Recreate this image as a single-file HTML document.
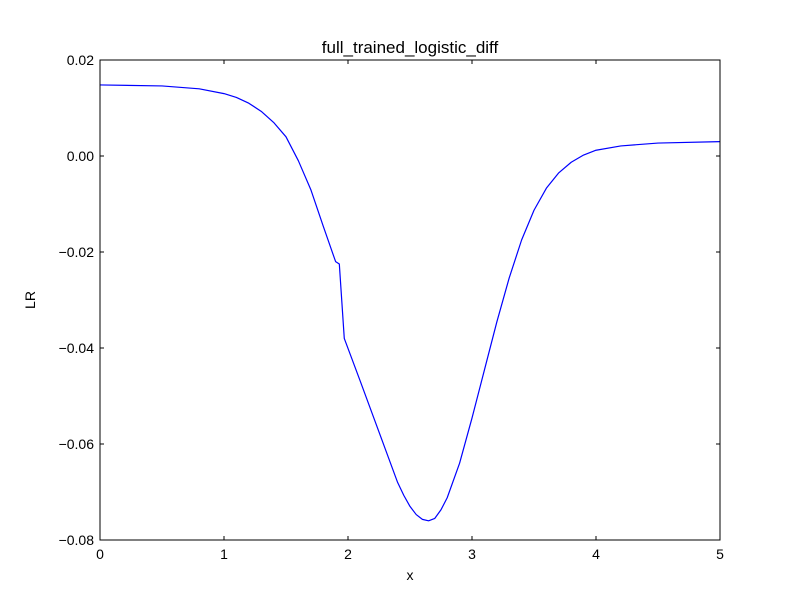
<!DOCTYPE html>
<html><head><meta charset="utf-8"><style>
body{margin:0;background:#fff;}
text{font-family:"Liberation Sans","DejaVu Sans",sans-serif;}
</style></head><body>
<svg id="chart" width="800" height="600" xmlns="http://www.w3.org/2000/svg">
<rect width="800" height="600" fill="#fff"/>
<g id="g"></g>
</svg>
<script>
const xs=[0,0.5,0.8,1,1.1,1.2,1.3,1.4,1.5,1.6,1.7,1.8,1.9,1.93,1.97,2.1,2.2,2.3,2.4,2.45,2.5,2.55,2.6,2.65,2.7,2.75,2.8,2.9,3.0,3.1,3.2,3.3,3.4,3.5,3.6,3.7,3.8,3.9,4.0,4.2,4.5,5];
const ys=[0.0148,0.0146,0.014,0.013,0.0122,0.011,0.0093,0.007,0.004,-0.001,-0.007,-0.0146,-0.022,-0.0225,-0.038,-0.047,-0.054,-0.061,-0.068,-0.0707,-0.073,-0.0747,-0.0757,-0.076,-0.0755,-0.0737,-0.0712,-0.064,-0.0546,-0.0446,-0.0346,-0.0254,-0.0175,-0.0113,-0.0067,-0.0035,-0.0013,0.0002,0.0012,0.0021,0.0027,0.003];
const xTicks=[0,1,2,3,4,5];
const xTickLabels=["0","1","2","3","4","5"];
const yTicks=[-0.08,-0.06,-0.04,-0.02,0.00,0.02];
const yTickLabels=["\u22120.08","\u22120.06","\u22120.04","\u22120.02","0.00","0.02"];
const L=100,R=720,T=60,B=540;
const sx=v=>L+(v-0)/(5-0)*(R-L);
const sy=v=>B-(v+0.08)/(0.1)*(B-T);
const NS="http://www.w3.org/2000/svg";
const g=document.getElementById('g');
function mk(t,a,txt){const e=document.createElementNS(NS,t);for(const k in a)e.setAttribute(k,a[k]);if(txt!==undefined)e.textContent=txt;g.appendChild(e);return e;}
let d=xs.map((x,i)=>(i?'L':'M')+sx(x).toFixed(2)+','+sy(ys[i]).toFixed(2)).join(' ');
const line=mk('path',{d:d,fill:'none',stroke:'#0000ff','stroke-width':1.2,'stroke-linejoin':'round'});


const frame=mk('rect',{x:L,y:T,width:R-L,height:B-T,fill:'none',stroke:'#000','stroke-width':1});


xTicks.forEach((v,i)=>{const x=sx(v);
mk('line',{x1:x,x2:x,y1:B,y2:B-4,stroke:'#000'});mk('line',{x1:x,x2:x,y1:T,y2:T+4,stroke:'#000'});
const t=mk('text',{x:x,y:B+19,'text-anchor':'middle','font-size':14},xTickLabels[i]);

});
yTicks.forEach((v,i)=>{const y=sy(v);
mk('line',{x1:L,x2:L+4,y1:y,y2:y,stroke:'#000'});mk('line',{x1:R,x2:R-4,y1:y,y2:y,stroke:'#000'});
const t=mk('text',{x:L-6,y:y+5,'text-anchor':'end','font-size':14},yTickLabels[i]);

});
const ti=mk('text',{x:410,y:53,'text-anchor':'middle','font-size':17},'full_trained_logistic_diff');


const xl=mk('text',{x:410,y:580,'text-anchor':'middle','font-size':14},'x');


const yl=mk('text',{x:35,y:300,'text-anchor':'middle','font-size':14,transform:'rotate(-90 35 300)'},'LR');


</script>
</body></html>
